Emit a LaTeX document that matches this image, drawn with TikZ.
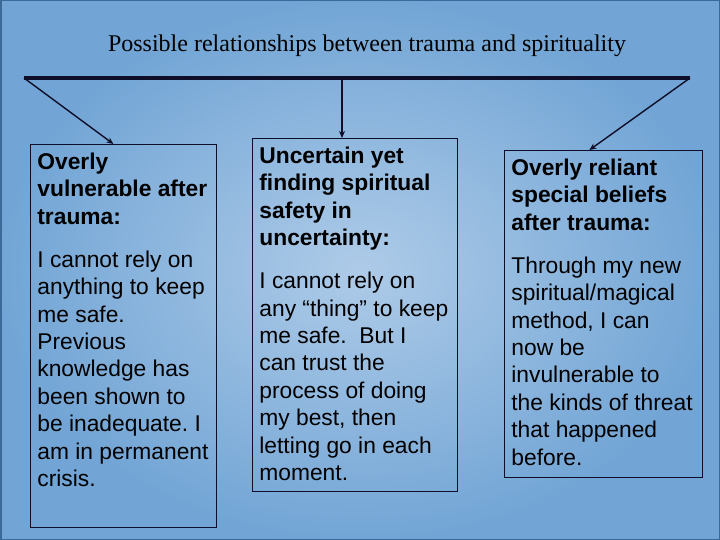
\documentclass[tikz,border=0pt]{standalone}
\usepackage{fontspec}
\setmainfont{Liberation Serif}
\newfontfamily\arialfont{Liberation Sans}
\usepackage{tikz}
\usetikzlibrary{positioning,arrows.meta,calc}
\definecolor{ink}{HTML}{0E0E28}
\definecolor{slide}{HTML}{72A5D5}
\definecolor{slidelight}{HTML}{AECBE8}
\definecolor{edge}{HTML}{3C6A98}
\frenchspacing
% card body: height, width, text
\newcommand{\cardtext}[3]{\parbox[t][#1][t]{#2}{\arialfont\fontsize{22.8}{27.4}\selectfont\raggedright\strut #3}}

\begin{document}
\begin{tikzpicture}[
  x=1pt,y=-1pt,
  card/.style={draw=ink,line width=0.8pt,anchor=north west,inner xsep=7pt,inner ysep=6pt},
  bar/.style={ink,line width=4pt},
  link/.style={-{Stealth[length=7pt,width=6pt]},ink,line width=1.4pt}
]
% slide background
\useasboundingbox (0,0) rectangle (720,540);
\shade[inner color=slidelight,outer color=slide] (0,0) rectangle (720,540);
\draw[edge,line width=3pt] (0,0) rectangle (720,540);

\node[font=\fontsize{24}{28}\selectfont,anchor=base] (title) at (367,52) {Possible relationships between trauma and spirituality};

\node[card] (vulnerable) at (30,144) {\cardtext{371pt}{172pt}{%
  \textbf{Overly\\vulnerable after\\trauma:}\\[15.5pt]
  I cannot rely on\\anything to keep\\me safe.\\Previous\\knowledge has\\been shown to\\be inadequate. I\\am in permanent\\crisis.}};
\node[card] (uncertain) at (252,138) {\cardtext{341pt}{191pt}{%
  \textbf{Uncertain yet\\finding spiritual\\safety in\\uncertainty:}\\[15.5pt]
  I cannot rely on\\any “thing” to keep\\me safe.\ \ But I\\can trust the\\process of doing\\my best, then\\letting go in each\\moment.}};
\node[card] (reliant) at (504,150) {\cardtext{315pt}{184pt}{%
  \textbf{Overly reliant\\special beliefs\\after trauma:}\\[15.5pt]
  Through my new\\spiritual/magical\\method, I can\\now be\\invulnerable to\\the kinds of threat\\that happened\\before.}};

% branching bar
\coordinate (barL) at (24,78);
\coordinate (barM) at (342,78);
\coordinate (barR) at (690,78);
\draw[bar] (barL) -- (barR);

\draw[link] (barL) -- ($(vulnerable.north)+(-10,0)$);
\draw[link] (barM) -- (barM |- uncertain.north);
\draw[link] (barR) -- ($(reliant.north)+(-14,0)$);

\end{tikzpicture}
\end{document}
